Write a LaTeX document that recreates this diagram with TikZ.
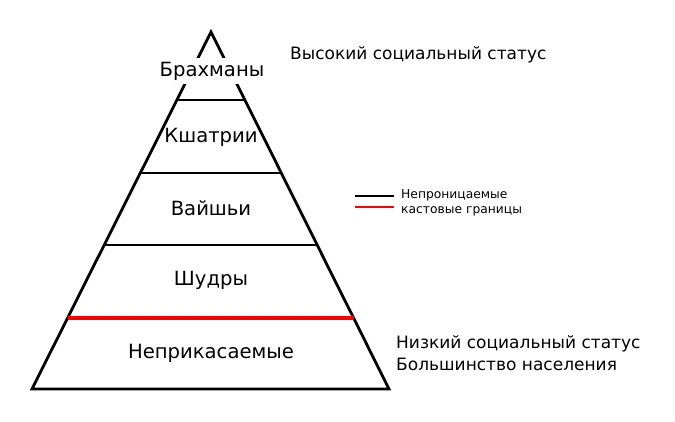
\documentclass[tikz,border=0pt]{standalone}
\usepackage{fontspec}
\setmainfont{DejaVu Sans}
\begin{document}
\begin{tikzpicture}[x=1pt,y=-1pt,
  lbl/.style={inner sep=1pt, font=\fontsize{19.6}{23}\selectfont},
  side/.style={inner sep=0pt, anchor=west, font=\fontsize{17}{22}\selectfont, align=left},
  leg/.style={inner sep=0pt, anchor=west, font=\fontsize{12.3}{15}\selectfont},
  outline/.style={line width=2.8pt, line join=miter},
  tier/.style={line width=1.4pt},
  redtier/.style={line width=3.8pt, red}]
\useasboundingbox (0,0) rectangle (675,421);
\coordinate (apex) at (211,32);
\coordinate (bl) at (32,389);
\coordinate (br) at (389,389);
\coordinate (l1) at (177,100); \coordinate (r1) at (245,100);
\coordinate (l2) at (140.5,173); \coordinate (r2) at (281.5,173);
\coordinate (l3) at (104.5,245); \coordinate (r3) at (317.5,245);
\coordinate (l4) at (68,318); \coordinate (r4) at (354,318);
\draw[outline] (bl) -- (apex) -- (br) -- cycle;
\draw[tier] (l1) -- (r1);
\draw[tier] (l2) -- (r2);
\draw[tier] (l3) -- (r3);
\draw[redtier] (l4) -- (r4);
\node[lbl, fill=white, inner ysep=3.5pt] (b) at (212,71) {Брахманы};
\node[lbl] (k) at (211,137) {Кшатрии};
\node[lbl] (v) at (211,208) {Вайшьи};
\node[lbl] (s) at (211,280) {Шудры};
\node[lbl] (n) at (211,353) {Неприкасаемые};
\node[side] (hi) at (290,55) {Высокий социальный статус};
\node[side] (lo) at (396,353) {Низкий социальный статус\\Большинство населения};
\coordinate (la) at (355,196); \coordinate (lb) at (394,196);
\coordinate (lc) at (355,207); \coordinate (ld) at (394,207);
\draw[line width=1.5pt] (la) -- (lb);
\draw[line width=1.5pt, red] (lc) -- (ld);
\node[leg] (t1) at (401,195) {Непроницаемые};
\node[leg] (t2) at (401,211) {кастовые границы};
\end{tikzpicture}
\end{document}
